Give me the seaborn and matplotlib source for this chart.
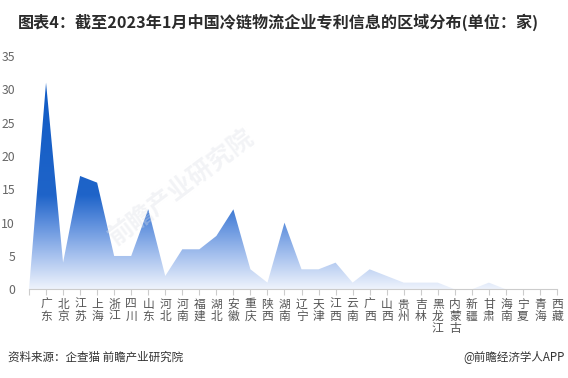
import numpy as np
import pandas as pd
import matplotlib
matplotlib.use("Agg")
import matplotlib.pyplot as plt
import seaborn as sns
from matplotlib.colors import LinearSegmentedColormap

# ---- data ----
regions = ["", "广东", "北京", "江苏", "上海", "浙江", "四川", "山东", "河北", "河南",
           "福建", "湖北", "安徽", "重庆", "陕西", "湖南", "辽宁", "天津", "江西",
           "云南", "广西", "山西", "贵州", "吉林", "黑龙江", "内蒙古", "新疆", "甘肃",
           "海南", "宁夏", "青海", "西藏"]
counts = [0, 31, 4, 17, 16, 5, 5, 12, 2, 6, 6, 8, 12, 3, 1, 10, 3, 3, 4,
          1, 3, 2, 1, 1, 1, 0, 0, 1, 0, 0, 0, 0]
y_ticks = [0, 5, 10, 15, 20, 25, 30, 35]

title = "图表4：截至2023年1月中国冷链物流企业专利信息的区域分布(单位：家)"
source = "资料来源：企查猫 前瞻产业研究院"
credit = "@前瞻经济学人APP"

sns.set_theme(style="white")
plt.rcParams['font.family'] = ['Noto Sans CJK SC', 'DejaVu Sans']

df = pd.DataFrame({"pos": np.arange(len(regions)), "region": regions, "count": counts})

fig = plt.figure(figsize=(5.68, 3.78), dpi=100)
ax = fig.add_axes([29 / 568, 1 - 289.3 / 378, (557 - 29) / 568, (289.3 - 56) / 378])

sns.lineplot(data=df, x="pos", y="count", ax=ax, linewidth=0, color="#1560c8")

poly = ax.fill_between(df["pos"], df["count"], 0, color="none", linewidth=0)

cmap = LinearSegmentedColormap.from_list(
    "grad", [(0.0, "#eef3fc"), (5 / 35, "#a6c1ee"), (10 / 35, "#5b8ddc"),
             (14 / 35, "#1f64c9"), (1.0, "#0d5ac5")])
grad = np.linspace(0, 1, 256).reshape(-1, 1)
im = ax.imshow(grad, extent=[0, len(regions) - 1, 0, 35], origin="lower",
               aspect="auto", cmap=cmap, zorder=1)
im.set_clip_path(poly.get_paths()[0], transform=ax.transData)

ax.set_xlim(0, len(regions) - 1)
ax.set_ylim(0, 35)

ax.set_yticks(y_ticks)
ax.set_yticklabels([str(v) for v in y_ticks], color="#666666", fontsize=8.8)
ax.tick_params(axis="y", length=0, pad=10)

ax.set_xticks(df["pos"])
ax.set_xticklabels(["\n".join(list(r)) for r in regions], color="#555555",
                   fontsize=8.5, linespacing=0.92, va="top")
ax.tick_params(axis="x", length=4, width=0.8, color="#cccccc", pad=2, bottom=True)

ax.set_xlabel("")
ax.set_ylabel("")
for s in ["top", "right", "left"]:
    ax.spines[s].set_visible(False)
ax.spines["bottom"].set_color("#cccccc")
ax.spines["bottom"].set_linewidth(0.8)

# faint watermark
fig.text(182 / 568, 1 - 188 / 378, "前瞻产业研究院", fontsize=18, color="#dcdfe6", alpha=0.35,
         rotation=37, ha="center", va="center", fontweight="bold", zorder=5)

fig.text(18 / 568, 1 - 22 / 378, title, fontsize=11.6, fontweight="bold",
         color="#2b2b2b", ha="left", va="center")
fig.text(8 / 568, 1 - 357 / 378, source, fontsize=8.3, color="#333333",
         ha="left", va="center")
fig.text(565 / 568, 1 - 357 / 378, credit, fontsize=8.3, color="#333333",
         ha="right", va="center")

fig.savefig("out.png", dpi=100)
